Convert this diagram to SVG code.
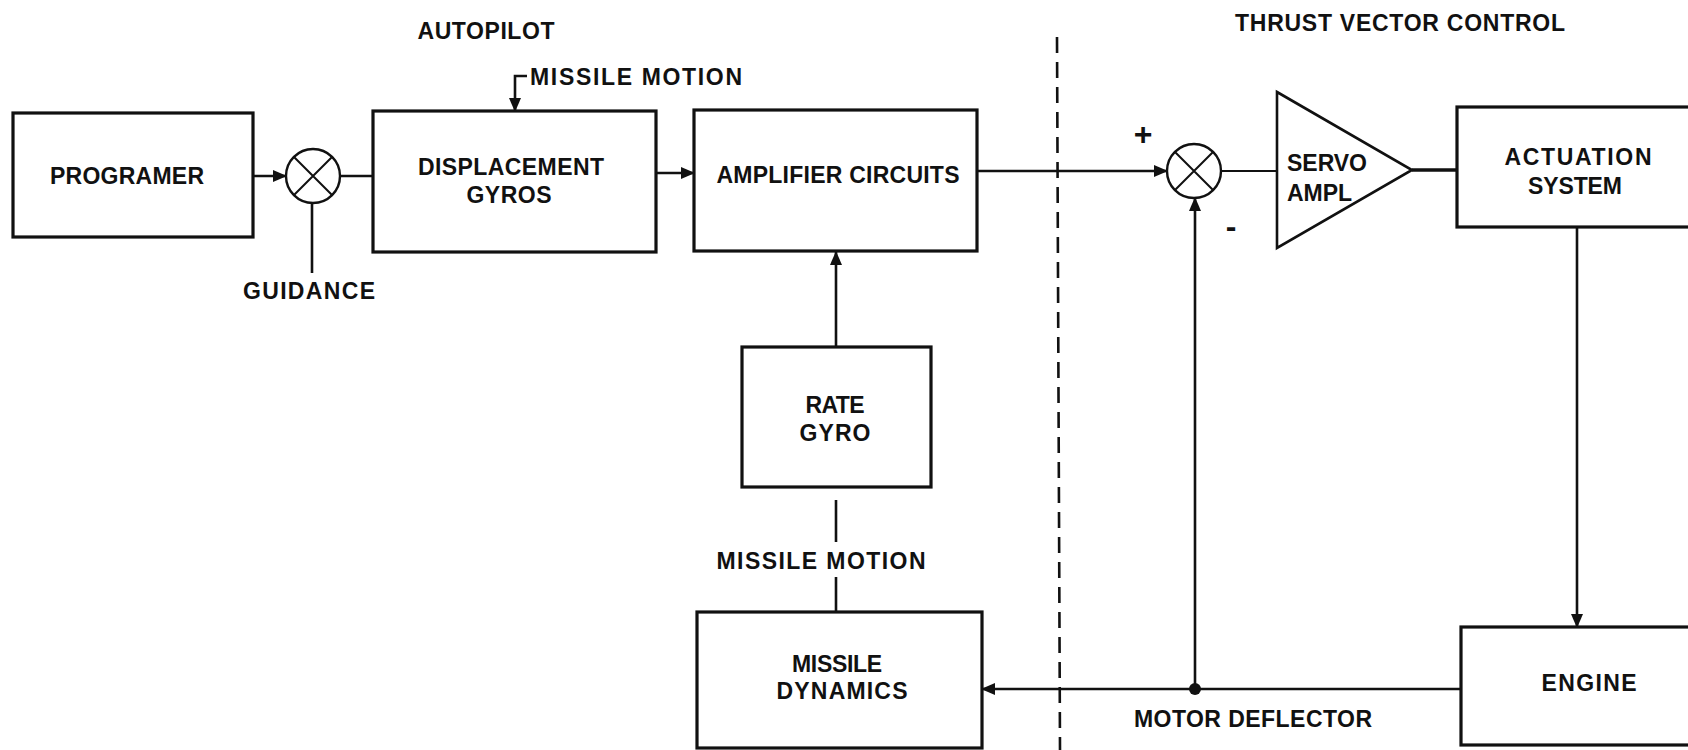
<svg xmlns="http://www.w3.org/2000/svg" width="1688" height="750" viewBox="0 0 1688 750">
<style>
.box{fill:#fff;stroke:#111;stroke-width:3.2}
.ln{fill:none;stroke:#111;stroke-width:2.6}
.thin{fill:none;stroke:#111;stroke-width:2}
.t{font-family:"Liberation Sans",Arial,sans-serif;font-weight:bold;font-size:23px;fill:#111;text-anchor:middle}
.dash{fill:none;stroke:#111;stroke-width:2.6;stroke-dasharray:16 9}
</style>
<defs>
<marker id="arr" markerWidth="14" markerHeight="12" refX="13" refY="6" orient="auto" markerUnits="userSpaceOnUse">
<path d="M0,0 L14,6 L0,12 Z" fill="#111"/>
</marker>
</defs>
<rect width="1688" height="750" fill="#fff"/>

<g id="labels">
<text class="t" x="486" y="39" textLength="137" lengthAdjust="spacing">AUTOPILOT</text>
<text class="t" x="1400" y="31" textLength="330" lengthAdjust="spacing">THRUST VECTOR CONTROL</text>
<text class="t" x="636" y="85" textLength="212" lengthAdjust="spacing">MISSILE MOTION</text>
<text class="t" x="309" y="299" textLength="132" lengthAdjust="spacing">GUIDANCE</text>
<text class="t" x="821" y="569" textLength="209" lengthAdjust="spacing">MISSILE MOTION</text>
<text class="t" x="1253" y="727" textLength="238" lengthAdjust="spacing">MOTOR DEFLECTOR</text>
<text class="t" x="1143" y="145" style="font-size:32px">+</text>
<text class="t" x="1231" y="237" style="font-size:32px">-</text>
</g>

<g id="connectors">
<line class="dash" x1="1057" y1="37" x2="1060" y2="750"/>
<line class="ln" x1="253" y1="176" x2="286" y2="176" marker-end="url(#arr)"/>
<line class="ln" x1="340" y1="176" x2="373" y2="176"/>
<line class="ln" x1="312" y1="203" x2="312" y2="273"/>
<path class="ln" d="M527,76 H515 V111" marker-end="url(#arr)"/>
<line class="ln" x1="656" y1="173" x2="694" y2="173" marker-end="url(#arr)"/>
<line class="ln" x1="977" y1="171" x2="1167" y2="171" marker-end="url(#arr)"/>
<line class="thin" x1="1221" y1="171" x2="1277" y2="171"/>
<line class="ln" x1="1412" y1="170" x2="1457" y2="170" style="stroke-width:3.4"/>
<line class="ln" x1="836" y1="347" x2="836" y2="252" marker-end="url(#arr)"/>
<line class="ln" x1="836" y1="500" x2="836" y2="542"/>
<line class="ln" x1="836" y1="577" x2="836" y2="612"/>
<line class="ln" x1="1577" y1="227" x2="1577" y2="627" marker-end="url(#arr)"/>
<line class="ln" x1="1461" y1="689" x2="982" y2="689" marker-end="url(#arr)"/>
<line class="ln" x1="1195" y1="689" x2="1195" y2="198" marker-end="url(#arr)"/>
<circle cx="1195" cy="689" r="6" fill="#111"/>
</g>

<g id="programer">
<rect class="box" x="13" y="113" width="240" height="124"/>
<text class="t" x="127" y="184" textLength="154" lengthAdjust="spacing">PROGRAMER</text>
</g>

<g id="sum1">
<circle class="thin" cx="313" cy="176" r="27" style="fill:#fff;stroke-width:2.4"/>
<path class="thin" d="M294,157 L332,195 M332,157 L294,195"/>
</g>

<g id="displacement-gyros">
<rect class="box" x="373" y="111" width="283" height="141"/>
<text class="t" x="511" y="175" textLength="186" lengthAdjust="spacing">DISPLACEMENT</text>
<text class="t" x="509" y="203" textLength="85" lengthAdjust="spacing">GYROS</text>
</g>

<g id="amplifier-circuits">
<rect class="box" x="694" y="110" width="283" height="141"/>
<text class="t" x="838" y="183" textLength="243" lengthAdjust="spacing">AMPLIFIER CIRCUITS</text>
</g>

<g id="rate-gyro">
<rect class="box" x="742" y="347" width="189" height="140"/>
<text class="t" x="835" y="413" textLength="59" lengthAdjust="spacing">RATE</text>
<text class="t" x="835" y="441" textLength="71" lengthAdjust="spacing">GYRO</text>
</g>

<g id="missile-dynamics">
<rect class="box" x="697" y="612" width="285" height="136"/>
<text class="t" x="837" y="672" textLength="90" lengthAdjust="spacing">MISSILE</text>
<text class="t" x="842" y="699" textLength="131" lengthAdjust="spacing">DYNAMICS</text>
</g>

<g id="sum2">
<circle class="thin" cx="1194" cy="171" r="27" style="fill:#fff;stroke-width:2.4"/>
<path class="thin" d="M1175,152 L1213,190 M1213,152 L1175,190"/>
</g>

<g id="servo-ampl">
<path class="box" d="M1277,92 L1412,170 L1277,248 Z" style="stroke-width:2.6"/>
<text class="t" x="1287" y="171" style="text-anchor:start" textLength="80" lengthAdjust="spacing">SERVO</text>
<text class="t" x="1287" y="201" style="text-anchor:start" textLength="65" lengthAdjust="spacing">AMPL</text>
</g>

<g id="actuation-system">
<rect class="box" x="1457" y="107" width="250" height="120"/>
<text class="t" x="1578" y="165" textLength="147" lengthAdjust="spacing">ACTUATION</text>
<text class="t" x="1575" y="194" textLength="94" lengthAdjust="spacing">SYSTEM</text>
</g>

<g id="engine">
<rect class="box" x="1461" y="627" width="250" height="118"/>
<text class="t" x="1589" y="691" textLength="95" lengthAdjust="spacing">ENGINE</text>
</g>
</svg>
